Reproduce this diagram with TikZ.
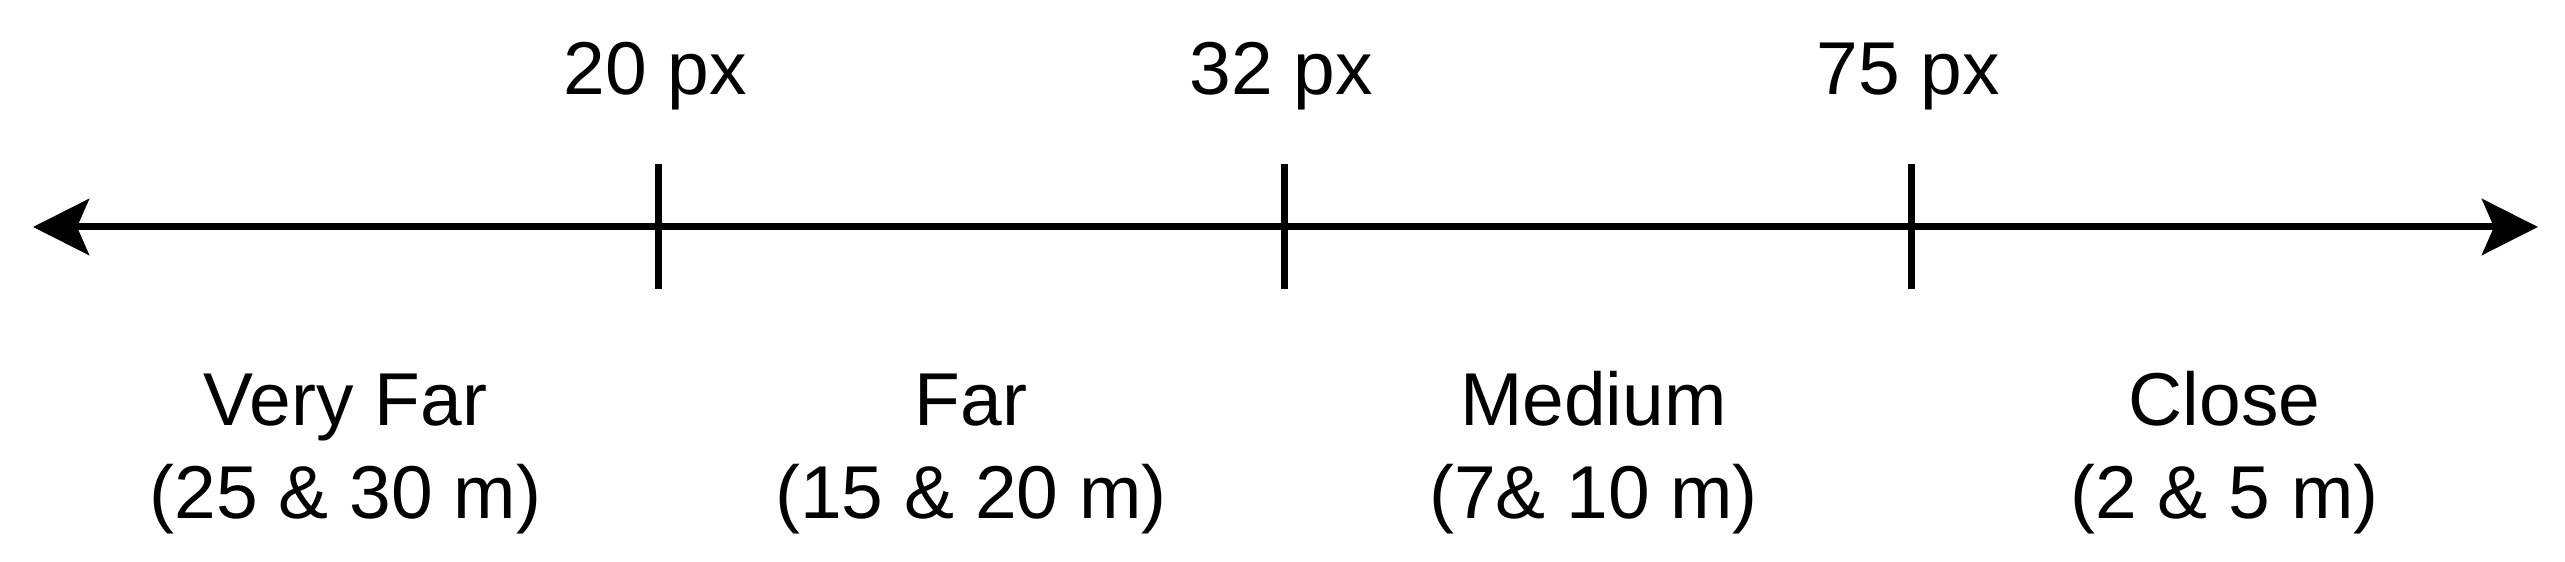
\documentclass[tikz,border=0pt]{standalone}
\usepackage{fontspec}
\setmainfont{Liberation Sans}
\usepackage{tikz}
\usetikzlibrary{arrows.meta, positioning, calc}

\begin{document}
\begin{tikzpicture}[
    x=0.01cm,
    y=-0.01cm,
    font=\fontsize{21.3}{26.5}\selectfont,
    axis/.style={
        draw,
        line width=0.07cm,
        {Stealth[length=0.56cm, width=0.56cm, inset=0.12cm]}-{Stealth[length=0.56cm, width=0.56cm, inset=0.12cm]}
    },
    tickline/.style={
        draw,
        line width=0.07cm
    },
    pxlabel/.style={
        anchor=base,
        inner sep=0pt
    },
    rangelabel/.style={
        align=center,
        anchor=base,
        inner sep=0pt
    }
]
\useasboundingbox (0,0) rectangle (2565,562);

% Axis points
\coordinate (left) at (33,227);
\coordinate (right) at (2538,227);
\coordinate (t20) at (658,227);
\coordinate (t32) at (1284,227);
\coordinate (t75) at (1911,227);

% Nodes
\node [pxlabel] (l20) at ($(t20)+(-3,-132)$) {20 px};
\node [pxlabel] (l32) at ($(t32)+(-3,-132)$) {32 px};
\node [pxlabel] (l75) at ($(t75)+(-3,-132)$) {75 px};

\node [rangelabel] (veryfar) at ($($(left)!0.5!(t20)$)+(0,292)$) {Very Far\\(25 \& 30 m)};
\node [rangelabel] (far) at ($($(t20)!0.5!(t32)$)+(0,292)$) {Far\\(15 \& 20 m)};
\node [rangelabel] (medium) at ($($(t32)!0.5!(t75)$)+(-4,292)$) {Medium\\(7\& 10 m)};
\node [rangelabel] (close) at ($($(t75)!0.5!(right)$)+(0,292)$) {Close\\(2 \& 5 m)};

% Edges
\path [axis] (left) -- (right);
\foreach \t in {t20, t32, t75} {
    \path [tickline] ([yshift=0.63cm]\t) -- ([yshift=-0.62cm]\t);
}

\end{tikzpicture}
\end{document}
